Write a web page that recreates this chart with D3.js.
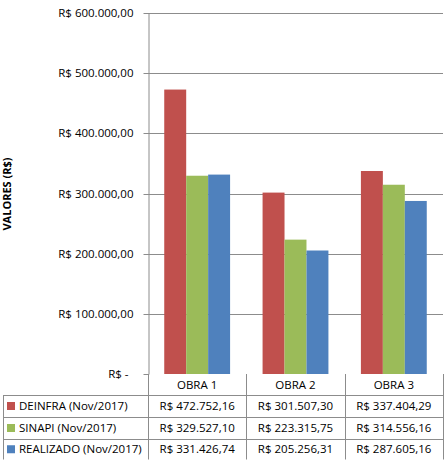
<!DOCTYPE html>
<html><head><meta charset="utf-8">
<script src="https://cdn.jsdelivr.net/npm/d3@7"></script>
<style>body{margin:0;background:#fff}svg{display:block}text{font-family:"Open Sans",sans-serif;fill:#000}</style>
</head><body><svg id="c" width="445" height="460"></svg>
<script>
const categories = ["OBRA 1","OBRA 2","OBRA 3"];
const seriesNames = ["DEINFRA (Nov/2017)","SINAPI (Nov/2017)","REALIZADO (Nov/2017)"];
const deinfra = [472752.16, 301507.30, 337404.29];
const sinapi = [329527.10, 223315.75, 314556.16];
const realizado = [331426.74, 205256.31, 287605.16];
const seriesColors = ["#C0504D","#9BBB59","#4F81BD"];
const yTicks = [0,100000,200000,300000,400000,500000,600000];
const yTitle = "VALORES (R$)";

const series = [deinfra, sinapi, realizado];
const svg = d3.select("#c");
const L = 148, R = 443, T = 13, B = 374;
const grid = "#8c8c8c";

const y = d3.scaleLinear().domain([0,600000]).range([B,T]);
const x0 = d3.scaleBand().domain(categories).range([L,R]);
const x1 = d3.scaleBand().domain(seriesNames).range([0,x0.bandwidth()]).paddingInner(0).paddingOuter(0.74);

const fmtNum = d3.formatLocale({decimal:",",thousands:".",grouping:[3],currency:["R$ ",""]}).format("$,.2f");
const fmt = v => v === 0 ? "R$ -" : fmtNum(v);

// gridlines
svg.append("g").selectAll("line").data(yTicks.filter(d=>d>0)).join("line")
  .attr("x1",L).attr("x2",R).attr("y1",d=>Math.round(y(d))+0.5).attr("y2",d=>Math.round(y(d))+0.5)
  .attr("stroke",grid).attr("stroke-width",1);

// bars
series.forEach((vals,si)=>{
  svg.append("g").selectAll("rect").data(vals).join("rect")
    .attr("x",(d,i)=>x0(categories[i])+x1(seriesNames[si]))
    .attr("width",x1.bandwidth())
    .attr("y",d=>y(d)).attr("height",d=>B-y(d))
    .attr("fill",seriesColors[si]);
});

// y axis
const ax = svg.append("g").attr("transform",`translate(${L+0.5},0)`)
  .call(d3.axisLeft(y).tickValues(yTicks).tickFormat(fmt).tickSize(5).tickPadding(10).tickSizeOuter(0));
ax.select(".domain").attr("stroke",grid);
ax.selectAll(".tick line").attr("stroke",grid);
ax.selectAll(".tick").attr("transform",d=>`translate(0,${Math.round(y(d))+0.5})`);
ax.selectAll(".tick text").style("font-family","'Open Sans',sans-serif").style("font-size","11.5px").attr("fill","#000")
  .attr("dx",d=>d===0?-5:0);

// title
svg.append("text").attr("transform","translate(11,194) rotate(-90)")
  .attr("text-anchor","middle").style("font-weight","bold").style("font-size","11px").text(yTitle);

// data table
const rowY = [374,395,417,439,459.5];
const tg = svg.append("g").attr("stroke",grid).attr("stroke-width",1).attr("fill","none");
const colX = [L].concat(categories.map(c=>x0(c)+x0.bandwidth()));
colX.forEach(cx=>tg.append("line").attr("x1",Math.round(cx)+0.5).attr("x2",Math.round(cx)+0.5).attr("y1",rowY[0]).attr("y2",rowY[4]));
tg.append("line").attr("x1",3.5).attr("x2",3.5).attr("y1",rowY[1]).attr("y2",rowY[4]);
rowY.slice(1).forEach(ry=>tg.append("line").attr("x1",3.5).attr("x2",Math.round(R)+0.5).attr("y1",Math.round(ry)+0.5).attr("y2",Math.round(ry)+0.5));

const fs = "11.5px";
svg.append("g").selectAll("text").data(categories).join("text")
  .attr("x",c=>x0(c)+x0.bandwidth()/2).attr("y",(rowY[0]+rowY[1])/2+4)
  .attr("text-anchor","middle").style("font-size",fs).text(c=>c);

seriesNames.forEach((name,si)=>{
  const cy = (rowY[si+1]+rowY[si+2])/2;
  svg.append("rect").attr("x",7).attr("y",cy-4).attr("width",8).attr("height",8).attr("fill",seriesColors[si]);
  svg.append("text").attr("x",19).attr("y",cy+4).style("font-size",fs).text(name);
  svg.append("g").selectAll("text").data(series[si]).join("text")
    .attr("x",(d,i)=>x0(categories[i])+x0.bandwidth()/2).attr("y",cy+4)
    .attr("text-anchor","middle").style("font-size",fs).text(d=>fmt(d));
});
</script></body></html>
